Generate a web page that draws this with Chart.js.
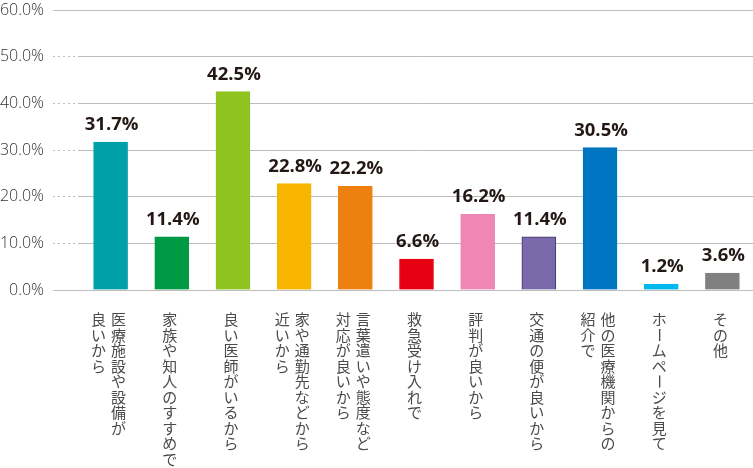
<!DOCTYPE html>
<html>
<head>
<meta charset="utf-8">
<script src="https://cdn.jsdelivr.net/npm/chart.js@4"></script>
<style>
html,body{margin:0;padding:0;background:#fff;}
#wrap{width:753px;height:468px;position:relative;}
</style>
</head>
<body>
<div id="wrap"><canvas id="c"></canvas></div>
<script>
const categories = [
  ['医療施設や設備が', '良いから'],
  ['家族や知人のすすめで'],
  ['良い医師がいるから'],
  ['家や通勤先などから', '近いから'],
  ['言葉遣いや態度など', '対応が良いから'],
  ['救急受け入れで'],
  ['評判が良いから'],
  ['交通の便が良いから'],
  ['他の医療機関からの', '紹介で'],
  ['ホームページを見て'],
  ['その他']
];
const values = [31.7, 11.4, 42.5, 22.8, 22.2, 6.6, 16.2, 11.4, 30.5, 1.2, 3.6];
const barColors = ['#00a0a9', '#009a44', '#8fc31f', '#f8b500', '#ee8012', '#e60012', '#ee87b4', '#7a6aab', '#0075c2', '#00b7ee', '#808080'];
const borderColors = ['#00a0a9', '#009a44', '#8fc31f', '#f8b500', '#ee8012', '#e60012', '#ee87b4', '#3c3560', '#0075c2', '#00b7ee', '#808080'];
const yMin = 0, yMax = 60, yStep = 10;

const customPlugin = {
  id: 'custom',
  beforeDatasetsDraw(chart) {
    const ctx = chart.ctx, ys = chart.scales.y, a = chart.chartArea;
    ctx.save();
    ctx.strokeStyle = '#bdbdbd';
    ctx.lineWidth = 1;
    [yMin, yMax].forEach(v => {
      const y = Math.round(ys.getPixelForValue(v)) + 0.5;
      ctx.beginPath();
      ctx.moveTo(a.left - 27, y);
      ctx.lineTo(a.right, y);
      ctx.stroke();
    });
    ctx.restore();
  },
  afterDatasetsDraw(chart) {
    const ctx = chart.ctx;
    const meta = chart.getDatasetMeta(0);
    ctx.save();
    ctx.fillStyle = '#231815';
    ctx.font = 'bold 18.5px "Open Sans", "Noto Sans", sans-serif';
    ctx.textAlign = 'center';
    ctx.textBaseline = 'alphabetic';
    meta.data.forEach((bar, i) => {
      ctx.fillText(values[i].toFixed(1) + '%', bar.x + 1, bar.y - 12);
    });
    // vertical category labels
    const xs = chart.scales.x;
    ctx.fillStyle = '#4a4a4a';
    ctx.font = '15px "Noto Sans CJK JP", sans-serif';
    ctx.textAlign = 'center';
    ctx.textBaseline = 'middle';
    const top = chart.chartArea.bottom + 22;
    categories.forEach((cols, i) => {
      const cx = xs.getPixelForTick(i) - 2;
      const n = cols.length;
      cols.forEach((col, j) => {
        const x = cx + (n - 1) * 10 - j * 20;
        [...col].forEach((ch, k) => {
          const y = top + 7.5 + k * 15.5;
          if (ch === 'ー') {
            ctx.save();
            ctx.translate(x, y);
            ctx.rotate(Math.PI / 2);
            ctx.fillText(ch, 0, 0);
            ctx.restore();
          } else {
            ctx.fillText(ch, x, y);
          }
        });
      });
    });
    ctx.restore();
  }
};

new Chart(document.getElementById('c'), {
  type: 'bar',
  data: {
    labels: categories,
    datasets: [{
      data: values,
      backgroundColor: barColors,
      borderColor: borderColors,
      borderWidth: 1,
      barThickness: 34
    }]
  },
  options: {
    responsive: true,
    maintainAspectRatio: false,
    animation: false,
    layout: { padding: { top: 10, right: 0, bottom: 178, left: 0 } },
    plugins: { legend: { display: false }, tooltip: { enabled: false } },
    scales: {
      x: {
        grid: { display: false, drawTicks: false },
        border: { display: false },
        ticks: { display: false }
      },
      y: {
        min: yMin,
        max: yMax,
        border: { display: false },
        grid: {
          color: '#bdbdbd',
          borderDash: [2, 3],
          tickBorderDash: [2, 3],
          tickLength: 27,
          tickColor: '#bdbdbd'
        },
        ticks: {
          stepSize: yStep,
          padding: 9,
          color: '#333',
          font: { family: '"Open Sans", "Noto Sans", sans-serif', size: 16, weight: '300' },
          callback: v => v.toFixed(1) + '%'
        },
        afterFit: s => { s.width = 80; s.paddingTop = 0; s.paddingBottom = 0; }
      }
    }
  },
  plugins: [customPlugin]
});
</script>
</body>
</html>
